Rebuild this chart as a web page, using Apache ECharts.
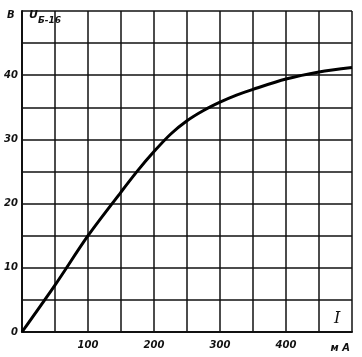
<!DOCTYPE html>
<html><head><meta charset="utf-8">
<script src="https://cdn.jsdelivr.net/npm/echarts@6/dist/echarts.min.js"></script>
<style>html,body{margin:0;padding:0;background:#fff}#c{width:362px;height:357px}</style>
</head><body><div id="c"></div>
<script>
const currentMA = [0, 50, 100, 150, 175, 200, 225, 250, 275, 300, 325, 350, 400, 450, 500];
const voltageV = [0, 7.3, 15, 21.8, 25.1, 28.1, 30.8, 32.9, 34.5, 35.8, 36.9, 37.8, 39.4, 40.5, 41.2];
const xTickLabels = {100:'100', 200:'200', 300:'300', 400:'400'};
const yTickLabels = {0:'0', 10:'10', 20:'20', 30:'30', 40:'40'};
const xUnit = 'м А';
const yUnit = 'В';

const chart = echarts.init(document.getElementById('c'));
const lbl = {fontFamily:'DejaVu Sans', fontStyle:'italic', fontWeight:'bold', fontSize:10, color:'#111'};
const gtxt = (t, size, fam) => ({text:t, fontFamily:fam||'DejaVu Sans', fontStyle:'italic', fontWeight:'bold', fontSize:size, fill:'#111'});
chart.setOption({
  animation:false,
  grid:{left:22, right:10, top:11, bottom:25},
  xAxis:{type:'value', min:0, max:500, interval:50,
    axisLine:{lineStyle:{color:'#111', width:2}},
    axisTick:{show:false},
    splitLine:{lineStyle:{color:'#111', width:1.5}},
    axisLabel:Object.assign({}, lbl, {margin:8, formatter:v=>xTickLabels[v]||''})
  },
  yAxis:{type:'value', min:0, max:50, interval:5,
    axisLine:{lineStyle:{color:'#111', width:2}},
    axisTick:{show:false},
    splitLine:{lineStyle:{color:'#111', width:1.5}},
    axisLabel:Object.assign({}, lbl, {margin:4, formatter:v=>yTickLabels[v]||''})
  },
  series:[{type:'line', data:currentMA.map((x,i)=>[x, voltageV[i]]), smooth:0.3,
    symbol:'none', lineStyle:{color:'#000', width:3}}],
  graphic:[
    {type:'text', left:7, top:10, style:gtxt(yUnit, 10)},
    {type:'text', right:12, top:343, style:gtxt(xUnit, 10)},
    {type:'text', left:29, top:10, style:gtxt('U', 11)},
    {type:'text', left:38, top:16, style:gtxt('Б-16', 9)},
    {type:'text', left:334, top:311, style:Object.assign(gtxt('I', 16, 'DejaVu Serif'), {fontWeight:'normal'})}
  ]
});
</script></body></html>
